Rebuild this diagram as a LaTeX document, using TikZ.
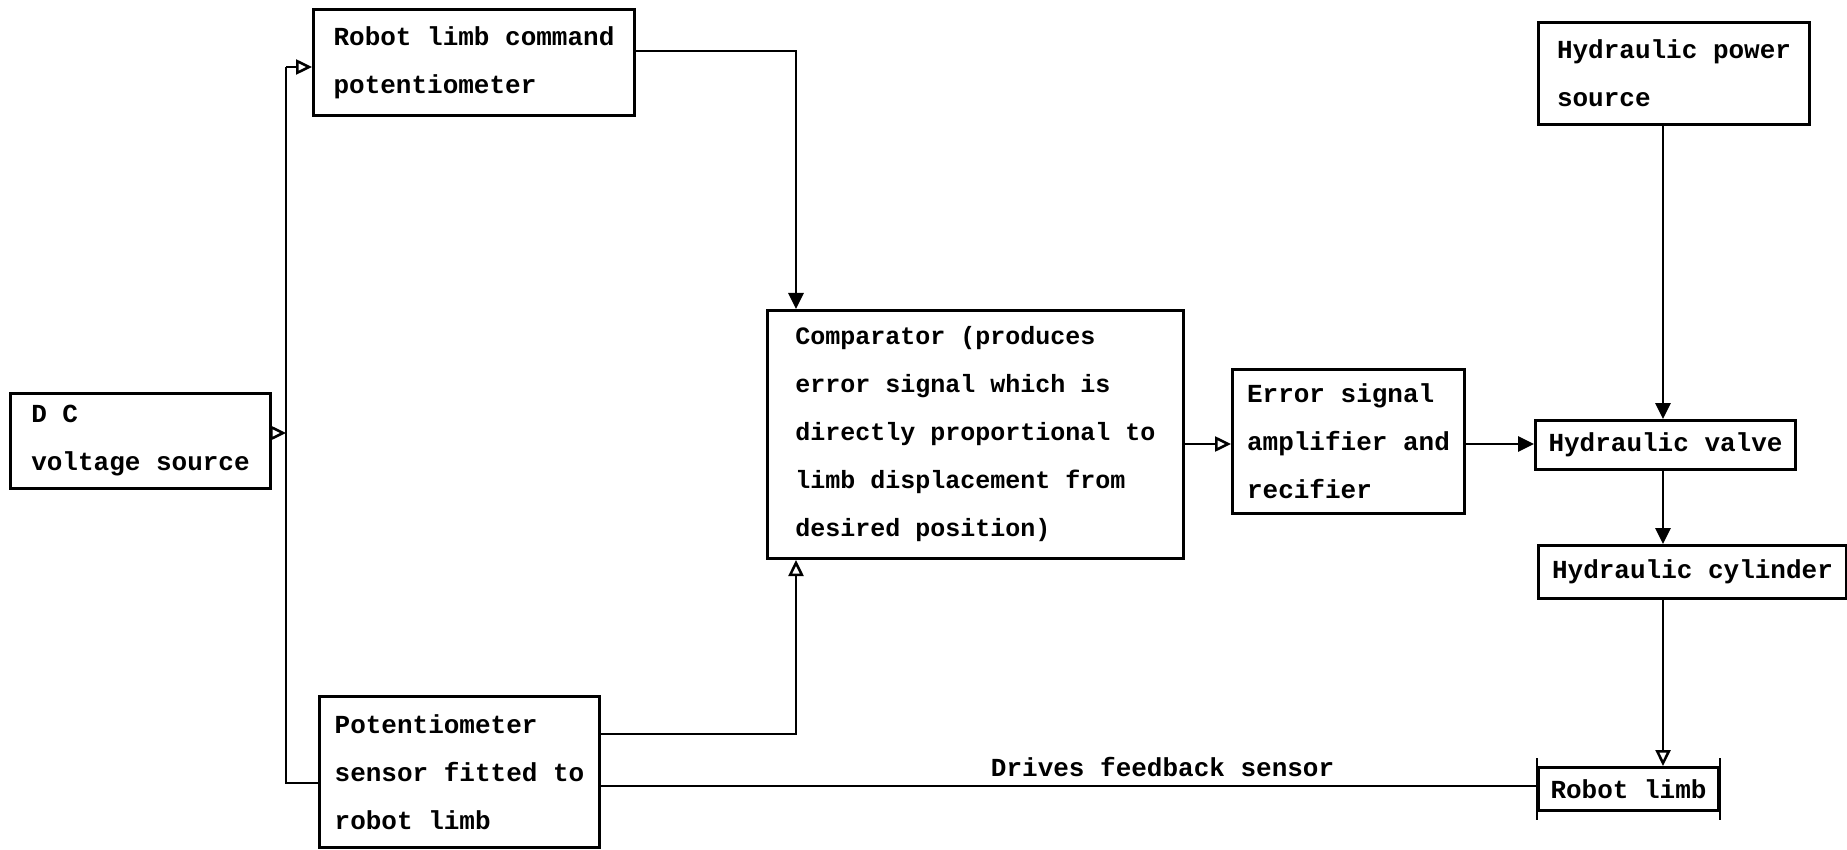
\documentclass[tikz,border=0pt]{standalone}
\usepackage{fontspec}
\newfontfamily\tw{Liberation Mono}
\usetikzlibrary{arrows.meta}
\tikzset{
  blk/.style={draw, line width=3pt, align=left, anchor=north west, inner sep=2pt,
    font=\tw\bfseries\fontsize{26}{48}\selectfont},
  conn/.style={line width=2.8pt},
  oarr/.style={conn, -{Triangle[open,length=16pt,width=15pt,line width=2.5pt]}},
  farr/.style={conn, -{Triangle[length=16pt,width=15pt]}},
  lbl/.style={font=\tw\bfseries\fontsize{26}{48}\selectfont, inner sep=0pt}
}
\begin{document}
\begin{tikzpicture}[x=1pt,y=-1pt]
\useasboundingbox (0,0) rectangle (1847,850);
% boxes
\node[blk, minimum width=321, minimum height=106] (cmd) at (312,8) {Robot limb command\\potentiometer};
\node[blk, minimum width=260, minimum height=95] (dc) at (9,392) {D C\\voltage source};
\node[blk, minimum width=280, minimum height=151] (sens) at (318,695) {Potentiometer\\sensor fitted to\\robot limb};
\node[blk, minimum width=416, minimum height=248, font=\tw\bfseries\fontsize{25}{48}\selectfont] (comp) at (766,309) {Comparator (produces\\error signal which is\\directly proportional to\\limb displacement from\\desired position)};
\node[blk, minimum width=232, minimum height=144] (amp) at (1231,368) {Error signal\\amplifier and\\recifier};
\node[blk, minimum width=271, minimum height=102] (hps) at (1537,21) {Hydraulic power\\source};
\node[blk, minimum width=260, minimum height=49] (valve) at (1534,419) {Hydraulic valve};
\node[blk, minimum width=308, minimum height=53] (cyl) at (1537,544) {Hydraulic cylinder};
\node[blk, minimum width=180, minimum height=43] (limb) at (1537,766) {Robot limb};
\draw[conn] ([yshift=8pt]limb.north west) -- ([yshift=-8pt]limb.south west);
\draw[conn] ([yshift=8pt]limb.north east) -- ([yshift=-8pt]limb.south east);
% route points
\coordinate (bt) at (286,67);
\coordinate (bm) at (286,433);
\coordinate (bb) at (286,783);
\coordinate (c1) at (796,51);
\coordinate (c2) at (796,734);
\coordinate (c3) at (0,444);
\coordinate (c4) at (0,786);
\coordinate (hx) at (1663,0);
% connectors
\draw[conn] (bt) -- (bb) -- (bb -| sens.west);
\draw[oarr] (bt) -- (bt -| cmd.west);
\draw[oarr] (dc.east |- bm) -- (bm);
\draw[farr] (cmd.east |- c1) -- (c1) -- (c1 |- comp.north);
\draw[oarr] (sens.east |- c2) -- (c2) -- (c2 |- comp.south);
\draw[oarr] (comp.east |- c3) -- (amp.west |- c3);
\draw[farr] (amp.east |- c3) -- (valve.west |- c3);
\draw[farr] (hx |- hps.south) -- (hx |- valve.north);
\draw[farr] (hx |- valve.south) -- (hx |- cyl.north);
\draw[oarr] (hx |- cyl.south) -- (hx |- limb.north);
\draw[conn] (sens.east |- c4) -- node[lbl, pos=0.6, above=8pt] (fb) {Drives feedback sensor} (limb.west |- c4);
\end{tikzpicture}
\end{document}
